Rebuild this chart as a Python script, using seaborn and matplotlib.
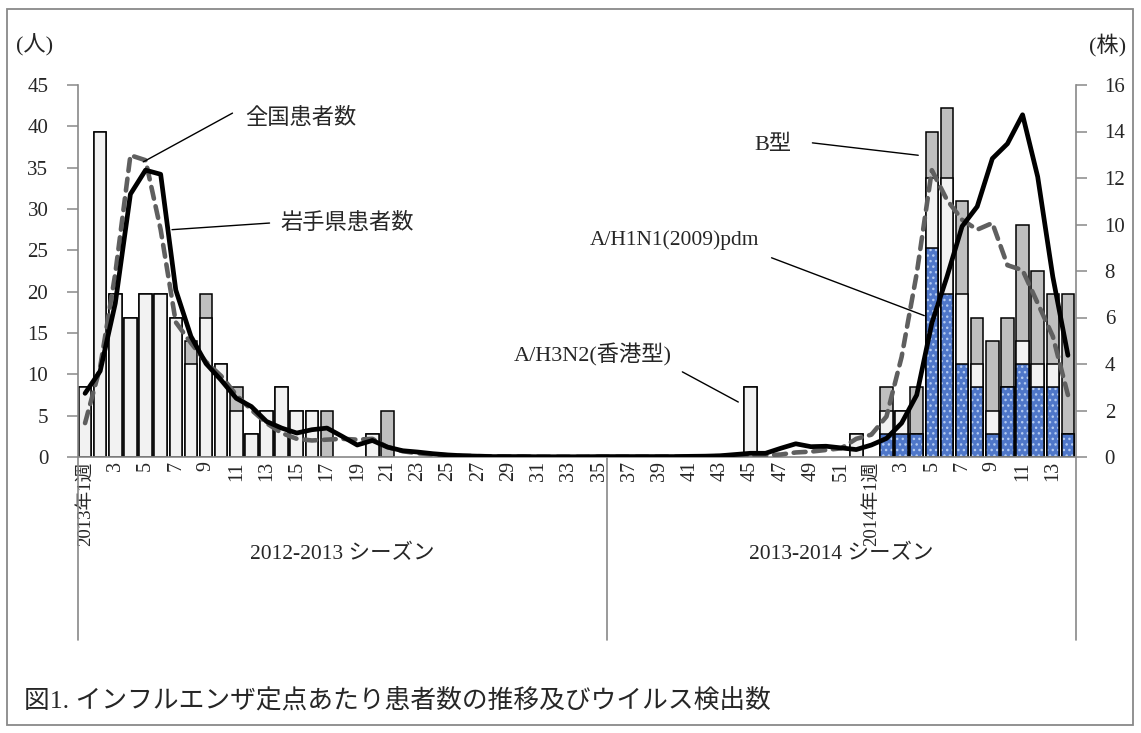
import numpy as np
import pandas as pd
import matplotlib
matplotlib.use("Agg")
import matplotlib.pyplot as plt
import matplotlib.transforms as mtransforms
from matplotlib.patches import Rectangle
import seaborn as sns

# ── Data: weeks 2013-01 .. 2013-52, 2014-01 .. 2014-14 ──
weeks_2013 = list(range(1, 53))
weeks_2014 = list(range(1, 15))

# virus detections (株), stacked bars
h1n1_2013 = [0, 0, 0, 0, 0, 0, 0, 0, 0, 0, 0, 0, 0, 0, 0, 0, 0, 0, 0, 0, 0, 0, 0, 0, 0, 0,
             0, 0, 0, 0, 0, 0, 0, 0, 0, 0, 0, 0, 0, 0, 0, 0, 0, 0, 0, 0, 0, 0, 0, 0, 0, 0]
h1n1_2014 = [0, 1, 1, 1, 9, 7, 4, 3, 1, 3, 4, 3, 3, 1]

h3n2_2013 = [3, 14, 7, 6, 7, 7, 6, 4, 6, 4, 2, 1, 2, 3, 2, 2, 0, 0, 0, 1, 0, 0, 0, 0, 0, 0,
             0, 0, 0, 0, 0, 0, 0, 0, 0, 0, 0, 0, 0, 0, 0, 0, 0, 0, 3, 0, 0, 0, 0, 0, 0, 1]
h3n2_2014 = [0, 1, 1, 0, 3, 5, 3, 1, 1, 0, 1, 1, 1, 0]

b_2013 = [0, 0, 0, 0, 0, 0, 0, 1, 1, 0, 1, 0, 0, 0, 0, 0, 2, 0, 0, 0, 2, 0, 0, 0, 0, 0,
          0, 0, 0, 0, 0, 0, 0, 0, 0, 0, 0, 0, 0, 0, 0, 0, 0, 0, 0, 0, 0, 0, 0, 0, 0, 0]
b_2014 = [0, 1, 0, 2, 2, 3, 4, 2, 3, 3, 5, 4, 3, 6]

# patients per sentinel (人)
iwate_2013 = [7.7, 10.4, 18.6, 31.8, 34.7, 34.2, 20.2, 14.6, 11.3, 9.3, 7.1, 6.1, 4.3, 3.5,
              2.9, 3.3, 3.5, 2.5, 1.45, 2.0, 1.2, 0.76, 0.6, 0.4, 0.25, 0.15, 0.1, 0.05, 0.05,
              0.05, 0.03, 0.03, 0.03, 0.03, 0.05, 0.05, 0.05, 0.05, 0.05, 0.05, 0.08, 0.1,
              0.15, 0.3, 0.45, 0.45, 1.05, 1.6, 1.25, 1.3, 1.1, 0.9]
iwate_2014 = [1.45, 2.25, 4.1, 7.5, 16.2, 21.8, 27.9, 30.3, 36.1, 37.9, 41.4, 33.9, 21.8, 12.3]

national_2013 = [4.1, 10.9, 22.2, 36.5, 35.9, 27.5, 16.3, 13.8, 11.5, 9.8, 7.5, 5.7, 4.1, 2.9,
                 2.2, 2.0, 2.1, 2.2, 2.1, 2.2, 1.2, 0.7, 0.45, 0.3, 0.2, 0.15, 0.1, 0.08, 0.06,
                 0.05, 0.04, 0.03, 0.03, 0.03, 0.03, 0.03, 0.03, 0.03, 0.04, 0.05, 0.06, 0.08,
                 0.1, 0.15, 0.2, 0.2, 0.3, 0.55, 0.65, 0.85, 1.05, 2.2]
national_2014 = [2.7, 4.9, 12.1, 22.2, 34.7, 31.1, 28.7, 27.5, 28.3, 23.2, 22.6, 18.6, 14.6, 7.5]

season_labels = ["2012-2013 シーズン", "2013-2014 シーズン"]
caption = "図1. インフルエンザ定点あたり患者数の推移及びウイルス検出数"

# ── Table ──
keys = [f"2013-{w:02d}" for w in weeks_2013] + [f"2014-{w:02d}" for w in weeks_2014]
df = pd.DataFrame({
    "week": keys,
    "pos": np.arange(len(keys)),
    "h1n1": h1n1_2013 + h1n1_2014,
    "h3n2": h3n2_2013 + h3n2_2014,
    "b": b_2013 + b_2014,
    "iwate": iwate_2013 + iwate_2014,
    "national": national_2013 + national_2014,
})
# cumulative levels for stacking, empty weeks left out
df["lvl_h1"] = df["h1n1"].replace(0, np.nan)
df["lvl_h3"] = (df["h1n1"] + df["h3n2"]).replace(0, np.nan)
df["lvl_b"] = (df["h1n1"] + df["h3n2"] + df["b"]).replace(0, np.nan)

tick_pos = []
tick_lab = []
for i, k in enumerate(keys):
    yr, wk = k.split("-")
    wk = int(wk)
    if wk % 2 == 1:
        tick_pos.append(i)
        tick_lab.append(f"{yr}年1週" if wk == 1 else str(wk))

# ── Style ──
sns.set_style("white")
plt.rcParams["font.family"] = ["Liberation Serif", "Noto Sans CJK JP"]
GRAY = "#898989"
W, H = 1141, 733

fig = plt.figure(figsize=(W / 100, H / 100), dpi=100)
ax = fig.add_axes([77.5 / W, (H - 457) / H, 998 / W, 372 / H])

# ── Stacked bars (right axis, 株) ──
bar_kw = dict(x="week", order=keys, ax=ax, width=0.83, saturation=1, errorbar=None)
sns.barplot(data=df, y="lvl_b", color="#bfbfbf", edgecolor="black", linewidth=1.1, **bar_kw)
sns.barplot(data=df, y="lvl_h3", color="#f2f2f2", edgecolor="black", linewidth=1.1, **bar_kw)
sns.barplot(data=df, y="lvl_h1", color="#4f77c9", edgecolor="#b3cbf2", linewidth=0,
            hatch="...", **bar_kw)
sns.barplot(data=df, y="lvl_h1", fill=False, edgecolor="black", linewidth=1.1, **bar_kw)

ax.set_ylim(0, 16)
ax.set_yticks(np.arange(0, 17, 2))

# ── Lines (left axis, 人) ──
ax2 = ax.twinx()
sns.lineplot(data=df, x="pos", y="national", ax=ax2, color="#5f5f5f", lw=3.3,
             linestyle=(0, (2.6, 1.7)), dash_capstyle="round")
sns.lineplot(data=df, x="pos", y="iwate", ax=ax2, color="black", lw=3.4)
ax2.set_ylim(0, 45)
ax2.set_yticks(np.arange(0, 46, 5))

ax.yaxis.tick_right()
ax2.yaxis.tick_left()
for a in (ax, ax2):
    a.set_xlim(-0.5, len(keys) - 0.5)
    a.set_xlabel("")
    a.set_ylabel("")
    for s in a.spines.values():
        s.set_visible(False)
for s in ("bottom", "left", "right"):
    ax.spines[s].set_visible(True)
    ax.spines[s].set_color(GRAY)
    ax.spines[s].set_linewidth(1.2)

ax.tick_params(axis="y", direction="out", length=8, width=1.1, color=GRAY,
               pad=13, labelsize=15, right=True, left=False)
ax2.tick_params(axis="y", direction="out", length=8, width=1.1, color=GRAY,
                pad=13, labelsize=15, left=True, right=False)
ax.set_xticks(tick_pos)
ax.set_xticklabels(tick_lab, rotation=90, fontsize=14.5)
for t in ax.get_xticklabels():
    if "年" in t.get_text():
        t.set_fontsize(13.5)
ax.tick_params(axis="x", length=0, pad=3)

# ── Season groups under the axis ──
trans = mtransforms.blended_transform_factory(ax.transData, ax.transAxes)
for xb in (-0.5, 34.5, len(keys) - 0.5):
    ax.plot([xb, xb], [0, -0.492], transform=trans, color=GRAY, lw=1.2, clip_on=False)
ax.text(17, -0.262, season_labels[0], transform=trans, ha="center", va="center", fontsize=15.5)
ax.text(50, -0.262, season_labels[1], transform=trans, ha="center", va="center", fontsize=15.5)

# ── Leader-line labels ──
lead = dict(arrowprops=dict(arrowstyle="-", color="black", lw=1.0, shrinkA=0, shrinkB=0))
lab = dict(fontsize=16, va="center")
ax2.text(10.6, 41.0, "全国患者数", ha="left", **lab)
ax2.annotate("", xy=(3.85, 35.7), xytext=(9.75, 41.6), **lead)
ax2.text(12.9, 28.3, "岩手県患者数", ha="left", **lab)
ax2.annotate("", xy=(5.75, 27.5), xytext=(12.2, 28.3), **lead)
ax2.text(38.8, 12.3, "A/H3N2(香港型)", ha="right", **lab)
ax2.annotate("", xy=(43.2, 6.65), xytext=(39.5, 10.3), **lead)
ax2.text(46.7, 37.7, "B型", ha="right", **lab)
ax2.annotate("", xy=(55.1, 36.5), xytext=(48.1, 38.0), **lead)
ax2.text(44.6, 26.2, "A/H1N1(2009)pdm", ha="right", fontsize=15.5, va="center")
ax2.annotate("", xy=(55.5, 17.1), xytext=(45.4, 24.1), **lead)

# ── Unit labels, caption, frame ──
fig.text(35 / W, 1 - 45 / H, "(人)", ha="center", va="center", fontsize=16)
fig.text(1108 / W, 1 - 45 / H, "(株)", ha="center", va="center", fontsize=16)
fig.text(24 / W, 1 - 700 / H, caption, ha="left", va="center", fontsize=18.5)
fig.add_artist(Rectangle((7 / W, 1 - 725 / H), 1126 / W, 716 / H, transform=fig.transFigure,
                         fill=False, edgecolor=GRAY, lw=1.3))

fig.savefig("out.png", dpi=100)
